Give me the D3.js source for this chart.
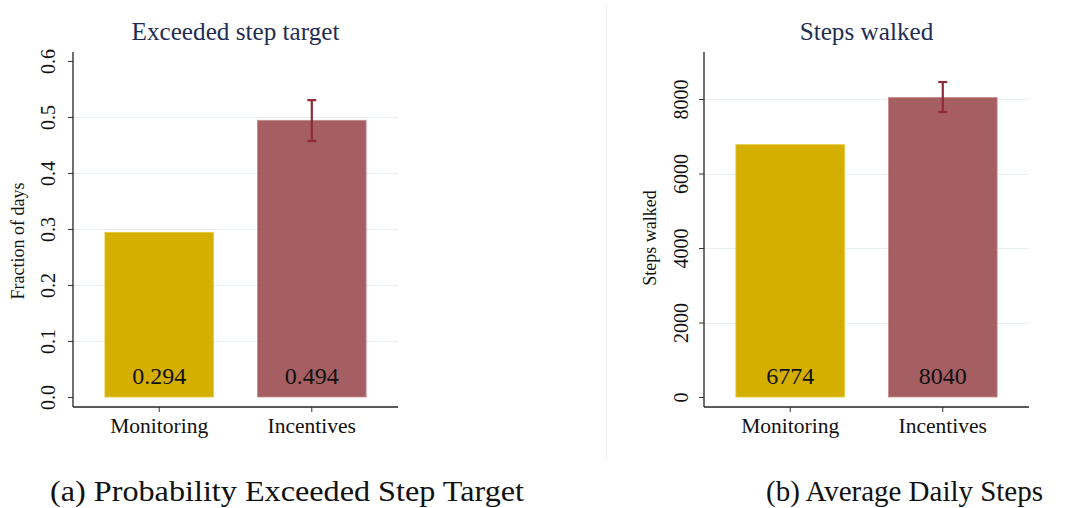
<!DOCTYPE html>
<html>
<head>
<meta charset="utf-8">
<script src="https://cdn.jsdelivr.net/npm/d3@7"></script>
<style>
  html, body { margin: 0; padding: 0; background: #fff; }
  svg { display: block; }
  svg text { font-family: 'Liberation Serif', 'DejaVu Serif', serif; }
</style>
</head>
<body>
<svg id="fig" width="1073" height="508"></svg>
<script>
// Treatment groups
const groups = ["Monitoring", "Incentives"];

// Panel (a): share of days the step target was exceeded
const shareValues = [0.294, 0.494];
const shareCILow = [null, 0.457];
const shareCIHigh = [null, 0.530];
const shareTicks = [0, 0.1, 0.2, 0.3, 0.4, 0.5, 0.6];
const shareGrid = [0.1, 0.2, 0.3, 0.4, 0.5];

// Panel (b): average daily steps
const stepValues = [6774, 8040];
const stepCILow = [null, 7651];
const stepCIHigh = [null, 8456];
const stepTicks = [0, 2000, 4000, 6000, 8000];
const stepGrid = [2000, 4000, 6000, 8000];

const barColors = ["#d4af00", "#a55e62"];
const barEdge = ["#e6c93a", "#c7898c"];
const ciColor = "#8e2a3a";
const gridColor = "#e6eef0";
const titleColor = "#1f2d52";
const FONT = "Liberation Serif";

const svg = d3.select("#fig");

// Faint divider between the two panels
svg.append("line")
  .attr("x1", 606.5).attr("x2", 606.5)
  .attr("y1", 5).attr("y2", 459)
  .attr("stroke", "#ececec").attr("stroke-width", 1);

function panel(cfg) {
  const g = svg.append("g");
  const y = d3.scaleLinear().domain(cfg.domain).range([397, 52]);
  const x = d3.scaleBand().domain(groups)
    .range([cfg.left, cfg.right]).paddingInner(0.288).paddingOuter(0.209);

  // gridlines
  g.append("g").selectAll("line").data(cfg.grid).join("line")
    .attr("x1", cfg.left).attr("x2", cfg.right)
    .attr("y1", d => Math.round(y(d)) + 0.5).attr("y2", d => Math.round(y(d)) + 0.5)
    .attr("stroke", gridColor).attr("stroke-width", 1.2);

  // bars
  g.append("g").selectAll("rect").data(cfg.values).join("rect")
    .attr("x", (d, i) => x(groups[i]))
    .attr("width", x.bandwidth())
    .attr("y", d => y(d))
    .attr("height", d => y(0) - y(d))
    .attr("fill", (d, i) => barColors[i])
    .attr("stroke", (d, i) => barEdge[i])
    .attr("stroke-width", 0.8);

  // confidence intervals
  const ci = cfg.values.map((d, i) => ({ i, lo: cfg.lo[i], hi: cfg.hi[i] }))
    .filter(d => d.lo != null);
  const cx = d => x(groups[d.i]) + x.bandwidth() / 2;
  const eg = g.append("g").attr("stroke", ciColor).attr("stroke-width", 2.2);
  eg.selectAll(".stem").data(ci).join("line")
    .attr("x1", cx).attr("x2", cx)
    .attr("y1", d => y(d.lo)).attr("y2", d => y(d.hi));
  eg.selectAll(".capHi").data(ci).join("line")
    .attr("x1", d => cx(d) - 4.5).attr("x2", d => cx(d) + 4.5)
    .attr("y1", d => y(d.hi)).attr("y2", d => y(d.hi));
  eg.selectAll(".capLo").data(ci).join("line")
    .attr("x1", d => cx(d) - 4.5).attr("x2", d => cx(d) + 4.5)
    .attr("y1", d => y(d.lo)).attr("y2", d => y(d.lo));

  // value labels inside the bars
  g.append("g").selectAll("text").data(cfg.values).join("text")
    .attr("x", (d, i) => x(groups[i]) + x.bandwidth() / 2)
    .attr("y", 384)
    .attr("text-anchor", "middle")
    .attr("font-family", FONT)
    .attr("font-size", 24)
    .attr("fill", "#111")
    .text(d => cfg.labelFmt(d));

  // y axis
  const ya = g.append("g").attr("transform", `translate(${cfg.left},0)`)
    .call(d3.axisLeft(y).tickValues(cfg.ticks).tickSize(5).tickSizeOuter(0).tickFormat(cfg.tickFmt));
  ya.attr("font-family", FONT);
  ya.select(".domain").attr("d", `M0,${y.range()[1]}V${407}`).attr("stroke", "#222").attr("stroke-width", 1.3);
  ya.selectAll(".tick line").attr("stroke", "#333");
  ya.selectAll(".tick text")
    .attr("font-family", FONT)
    .attr("font-size", 20)
    .attr("fill", "#111")
    .attr("transform", "rotate(-90)")
    .attr("x", 0)
    .attr("y", -cfg.tickDist)
    .attr("dy", 0)
    .attr("text-anchor", "middle");

  // x axis
  const xa = g.append("g").attr("transform", "translate(0,407)")
    .call(d3.axisBottom(x).tickSize(5).tickSizeOuter(0));
  xa.attr("font-family", FONT);
  xa.select(".domain").attr("d", `M${cfg.left},0H${cfg.right}`).attr("stroke", "#222").attr("stroke-width", 1.3);
  xa.selectAll(".tick line").attr("stroke", "#333");
  xa.selectAll(".tick text")
    .attr("font-family", FONT)
    .attr("font-size", 21.5)
    .attr("fill", "#111")
    .attr("y", 11)
    .attr("dy", "0.71em");

  // y axis title
  g.append("text")
    .attr("transform", `translate(${cfg.ylabX},${cfg.ylabY}) rotate(-90)`)
    .attr("text-anchor", "middle")
    .attr("font-family", FONT)
    .attr("font-size", 18)
    .attr("fill", "#111")
    .text(cfg.ylabel);

  // panel title
  g.append("text")
    .attr("x", (cfg.left + cfg.right) / 2)
    .attr("y", 40)
    .attr("text-anchor", "middle")
    .attr("font-family", FONT)
    .attr("font-size", 25.2)
    .attr("fill", titleColor)
    .text(cfg.title);

  // caption below panel
  const cap = g.append("text")
    .attr("x", cfg.capX)
    .attr("y", 501)
    .attr("text-anchor", "start")
    .attr("font-family", FONT)
    .attr("font-size", 29.5)
    .attr("fill", "#111")
    .text(cfg.caption);
  if (cfg.capWidth) cap.attr("textLength", cfg.capWidth).attr("lengthAdjust", "spacingAndGlyphs");
}

panel({
  left: 73, right: 398,
  domain: [0, 0.616],
  values: shareValues, lo: shareCILow, hi: shareCIHigh,
  ticks: shareTicks, grid: shareGrid,
  tickFmt: d3.format(".1f"),
  labelFmt: d3.format(".3f"),
  tickDist: 18,
  ylabel: "Fraction of days", ylabX: 24, ylabY: 241,
  title: "Exceeded step target",
  caption: "(a) Probability Exceeded Step Target", capX: 50, capWidth: 474
});

panel({
  left: 704, right: 1029,
  domain: [0, 9262],
  values: stepValues, lo: stepCILow, hi: stepCIHigh,
  ticks: stepTicks, grid: stepGrid,
  tickFmt: d3.format("d"),
  labelFmt: d3.format("d"),
  tickDist: 16,
  ylabel: "Steps walked", ylabX: 656, ylabY: 238,
  title: "Steps walked",
  caption: "(b) Average Daily Steps", capX: 766, capWidth: 277
});
</script>
</body>
</html>
